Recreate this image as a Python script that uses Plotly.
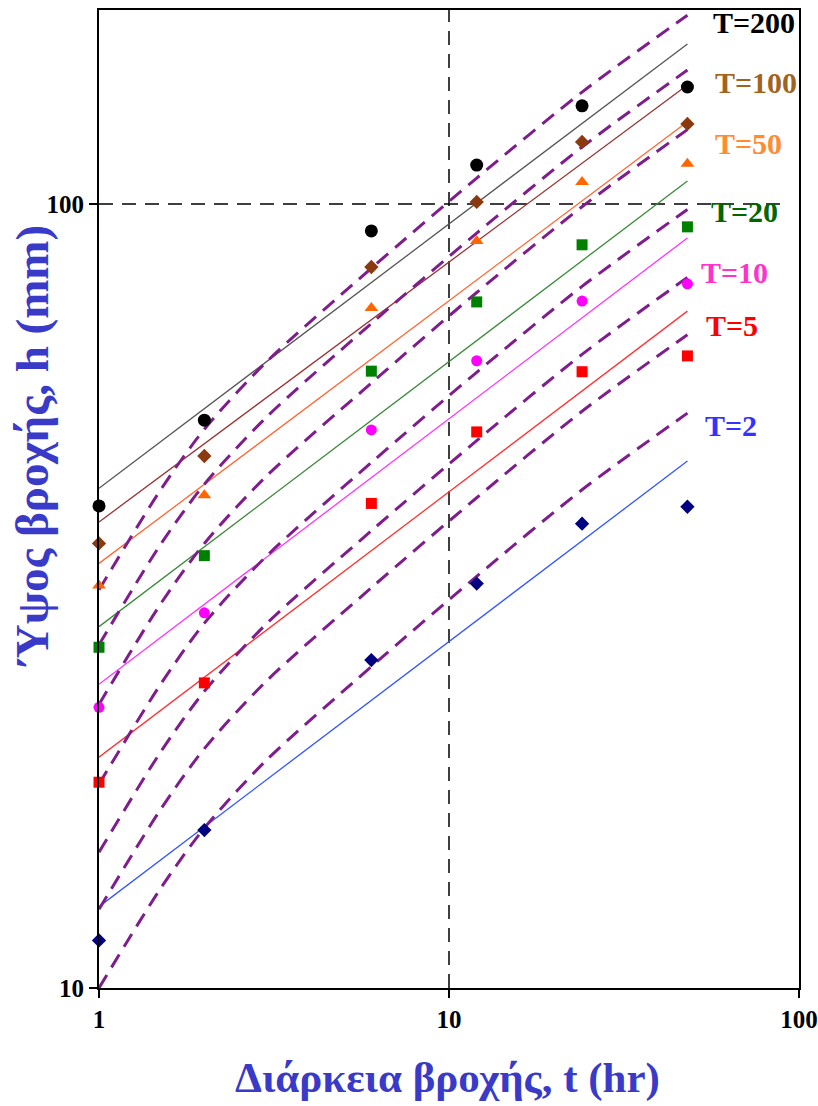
import plotly.graph_objects as go

# ---------------- data ----------------
T_names = ["T=200", "T=100", "T=50", "T=20", "T=10", "T=5", "T=2"]

# observed rainfall depths (mm) at durations t_obs (hr)
t_obs = [1, 2, 6, 12, 24, 48]
h_T200 = [41.2, 53.0, 92.4, 112.1, 133.4, 141.0]
h_T100 = [36.9, 47.7, 83.1, 100.6, 120.0, 126.5]
h_T50 = [32.6, 42.5, 73.7, 89.7, 106.7, 112.5]
h_T20 = [27.2, 35.6, 61.2, 75.0, 88.7, 93.5]
h_T10 = [22.8, 30.1, 51.5, 63.1, 75.2, 79.1]
h_T5 = [18.3, 24.5, 41.5, 51.2, 61.1, 64.0]
h_T2 = [11.5, 15.9, 26.2, 32.8, 39.1, 41.1]

# fitted straight lines (log-log)
t_fit = [1, 48]
fit_T200 = [43.4, 160.0]
fit_T100 = [39.3, 141.8]
fit_T50 = [34.8, 127.3]
fit_T20 = [28.9, 107.0]
fit_T10 = [24.4, 90.5]
fit_T5 = [19.7, 73.0]
fit_T2 = [12.7, 47.0]

# dashed IDF curves
t_idf = [1, 1.5, 2, 3, 6, 12, 24, 48]
idf_1 = [32.2, 43.2, 51.6, 62.8, 82.8, 107.9, 138.9, 174.1]
idf_2 = [27.4, 36.8, 43.9, 53.4, 70.4, 91.8, 118.2, 148.2]
idf_3 = [23.0, 30.9, 36.9, 44.9, 59.1, 77.1, 99.2, 124.4]
idf_4 = [18.2, 24.4, 29.2, 35.5, 46.8, 61.0, 78.5, 98.4]
idf_5 = [14.9, 20.0, 23.9, 29.1, 38.3, 49.9, 64.3, 80.6]
idf_6 = [12.6, 16.9, 20.2, 24.6, 32.4, 42.2, 54.4, 68.1]
idf_7 = [10.0, 13.4, 16.0, 19.5, 25.7, 33.5, 43.2, 54.1]

# reference lines
ref_h_x = [1, 90]
ref_h_y = [100, 100]
ref_v_x = [10, 10]
ref_v_y = [10, 176.8]

x_ticks = [1, 10, 100]
y_ticks = [10, 100]

# ---------------- styles ----------------
obs_sets = [h_T200, h_T100, h_T50, h_T20, h_T10, h_T5, h_T2]
fit_sets = [fit_T200, fit_T100, fit_T50, fit_T20, fit_T10, fit_T5, fit_T2]
idf_sets = [idf_1, idf_2, idf_3, idf_4, idf_5, idf_6, idf_7]

marker_style = [
    dict(symbol="circle", color="#000000", size=13),
    dict(symbol="diamond", color="#8B3A0F", size=11),
    dict(symbol="triangle-up", color="#FF6600", size=12),
    dict(symbol="square", color="#008000", size=11),
    dict(symbol="circle", color="#FF00FF", size=11),
    dict(symbol="square", color="#FF0000", size=11),
    dict(symbol="diamond", color="#000080", size=11),
]
fit_colors = ["#555555", "#993333", "#FF6633", "#3A8A3A", "#FF33FF", "#FF3333", "#3355FF"]
label_colors = ["#000000", "#A0641E", "#FF8C33", "#006600", "#FF33CC", "#FF0000", "#3333FF"]
label_pos = [  # (left px, centre y px)
    (711, 22), (713, 82), (713, 144), (709, 212), (699, 272), (704, 326), (703, 425)
]

fig = go.Figure()

# reference dashed black lines
fig.add_trace(go.Scatter(x=ref_h_x, y=ref_h_y, mode="lines",
                         line=dict(color="black", width=1.5, dash="14px,9px"),
                         showlegend=False, hoverinfo="skip"))
fig.add_trace(go.Scatter(x=ref_v_x, y=ref_v_y, mode="lines",
                         line=dict(color="black", width=1.5, dash="14px,9px"),
                         showlegend=False, hoverinfo="skip"))

# fitted solid lines
for ys, c in zip(fit_sets, fit_colors):
    fig.add_trace(go.Scatter(x=t_fit, y=ys, mode="lines",
                             line=dict(color=c, width=1.3),
                             showlegend=False, hoverinfo="skip"))

# dashed purple IDF curves
for ys in idf_sets:
    fig.add_trace(go.Scatter(x=t_idf, y=ys, mode="lines",
                             line=dict(color="#7E1E8C", width=3, dash="15px,9px",
                                       shape="spline", smoothing=0.8),
                             showlegend=False, hoverinfo="skip"))

# observed markers
for ys, ms in zip(obs_sets, marker_style):
    fig.add_trace(go.Scatter(x=t_obs, y=ys, mode="markers", cliponaxis=False,
                             marker=dict(symbol=ms["symbol"], color=ms["color"],
                                         size=ms["size"], line=dict(width=0)),
                             showlegend=False))

L, R, T, B = 99, 19, 10, 118
W, H = 818, 1106
pw, ph = W - L - R, H - T - B

annotations = []
for name, col, (px, py) in zip(T_names, label_colors, label_pos):
    annotations.append(dict(
        text=name, xref="paper", yref="paper",
        x=(px - L) / pw, y=(H - B - py) / ph,
        xanchor="left", yanchor="middle", showarrow=False,
        font=dict(family="Liberation Serif", size=30, color=col, weight="bold")))

annotations.append(dict(
    text="Ύψος βροχής, h (mm)", xref="paper", yref="paper",
    x=(32 - L) / pw, y=(H - B - 446) / ph, textangle=-90,
    xanchor="center", yanchor="middle", showarrow=False,
    font=dict(family="Liberation Serif", size=47, color="#3A3AC8", weight="bold")))
annotations.append(dict(
    text="Διάρκεια βροχής, t (hr)", xref="paper", yref="paper",
    x=(447 - L) / pw, y=(H - B - 1078) / ph,
    xanchor="center", yanchor="middle", showarrow=False,
    font=dict(family="Liberation Serif", size=43, color="#3A3AC8", weight="bold")))

tickfont = dict(family="Liberation Serif", size=25, color="black", weight="bold")

fig.update_layout(
    width=W, height=H,
    margin=dict(l=L, r=R, t=T, b=B, autoexpand=False),
    paper_bgcolor="white", plot_bgcolor="white",
    showlegend=False,
    annotations=annotations,
    xaxis=dict(type="log", range=[0, 2], tickvals=x_ticks, ticktext=[str(v) for v in x_ticks],
               showgrid=False, zeroline=False, showline=True, linecolor="black",
               linewidth=2, mirror=True, ticks="outside", ticklen=8, tickwidth=1.5,
               tickcolor="black", tickfont=tickfont, automargin=False),
    yaxis=dict(type="log", range=[1, 2.2474], tickvals=y_ticks, ticktext=[str(v) for v in y_ticks],
               showgrid=False, zeroline=False, showline=True, linecolor="black",
               linewidth=2, mirror=True, ticks="outside", ticklen=8, tickwidth=1.5,
               tickcolor="black", tickfont=tickfont, automargin=False),
)

fig.write_html("out.html")
